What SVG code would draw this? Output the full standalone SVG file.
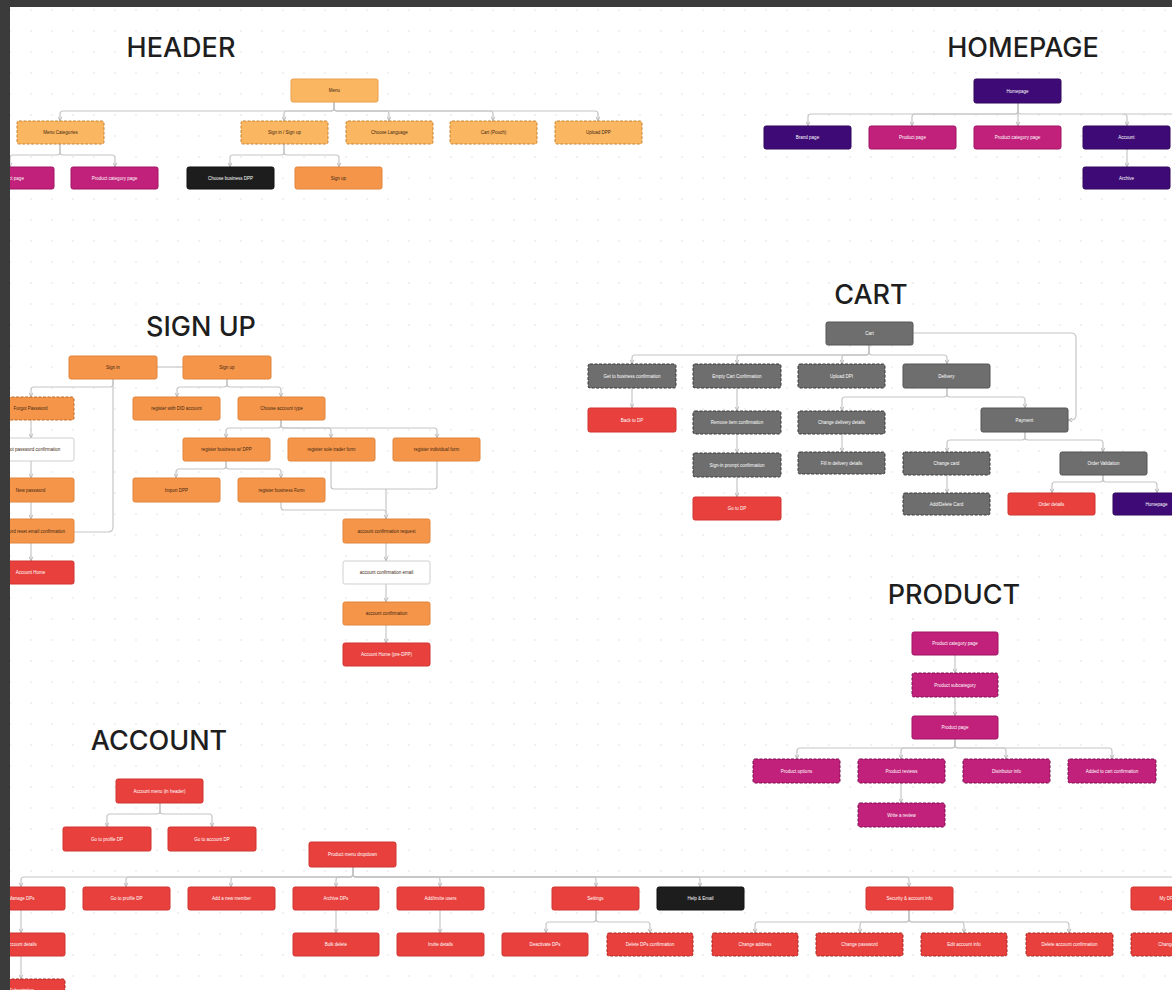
<svg xmlns="http://www.w3.org/2000/svg" width="1172" height="990" viewBox="0 0 1172 990">
<style>
.node rect{rx:2px;ry:2px;stroke-width:1}
.lo{fill:#fbb661;stroke:#e9a04c}
.or{fill:#f5954a;stroke:#e0843b}
.rd{fill:#e8403c;stroke:#cf3530}
.gy{fill:#6e6e6e;stroke:#555}
.bk{fill:#1d1d1d;stroke:#111}
.pu{fill:#3e0b76;stroke:#2e075a}
.pk{fill:#c1217b;stroke:#a01565}
.wh{fill:#ffffff;stroke:#cfcfcf}
.dash{stroke-dasharray:3 1.5;stroke-width:1.1}
.lo.dash{stroke:#c98432}
.gy.dash{stroke:#3a3a3a}
.pk.dash{stroke:#7e0e4e}
.rd.dash{stroke:#a82824}
.or.dash{stroke:#c46a25}
text{font-family:"Liberation Sans",Arial,sans-serif;font-size:4.5px;text-anchor:middle}
.l{fill:#ffffff}
.ld{fill:#3d2710}
.title{font-family:Inter,"Liberation Sans",sans-serif;font-size:27px;fill:#1e1e1e;font-weight:500}
#connectors path{fill:none;stroke:#c6c6c6;stroke-width:1.2}
</style>
<defs>
<marker id="ar" viewBox="0 0 6 6" refX="5.5" refY="3" markerWidth="5" markerHeight="5" markerUnits="userSpaceOnUse" orient="auto">
<path d="M0.5 0.8 L5.5 3 L0.5 5.2" fill="none" stroke="#b0b0b0" stroke-width="1"/>
</marker>
<pattern id="dots" width="21" height="21" patternUnits="userSpaceOnUse">
<circle cx="10" cy="10" r="0.9" fill="#ebebeb"/>
</pattern>
</defs>
<rect width="1172" height="990" fill="#ffffff"/>
<rect width="1172" height="990" fill="url(#dots)"/>

<g id="titles">
<text class="title" x="181" y="57">HEADER</text>
<text class="title" x="1023" y="57">HOMEPAGE</text>
<text class="title" x="871" y="304">CART</text>
<text class="title" x="201" y="336">SIGN UP</text>
<text class="title" x="954" y="604">PRODUCT</text>
<text class="title" x="159" y="750">ACCOUNT</text>
</g>

<g id="connectors">
<!-- header -->
<path d="M334 102 V108 Q334 111 331 111 H63 Q60 111 60 114 V121" marker-end="url(#ar)"/>
<path d="M334 102 V108 Q334 111 331 111 H287 Q284 111 284 114 V121" marker-end="url(#ar)"/>
<path d="M334 102 V108 Q334 111 337 111 H386 Q389 111 389 114 V121" marker-end="url(#ar)"/>
<path d="M334 102 V108 Q334 111 337 111 H490 Q493 111 493 114 V121" marker-end="url(#ar)"/>
<path d="M334 102 V108 Q334 111 337 111 H595 Q598 111 598 114 V121" marker-end="url(#ar)"/>
<path d="M60 144 V152 Q60 155 57 155 H13 Q10 155 10 158 V167" marker-end="url(#ar)"/>
<path d="M60 144 V152 Q60 155 63 155 H112 Q115 155 115 158 V167" marker-end="url(#ar)"/>
<path d="M284 144 V152 Q284 155 281 155 H233 Q230 155 230 158 V167" marker-end="url(#ar)"/>
<path d="M284 144 V152 Q284 155 287 155 H336 Q339 155 339 158 V167" marker-end="url(#ar)"/>
<!-- homepage -->
<path d="M1018 103 V111 Q1018 114 1015 114 H811 Q808 114 808 117 V126" marker-end="url(#ar)"/>
<path d="M1018 103 V111 Q1018 114 1015 114 H915 Q912 114 912 117 V126" marker-end="url(#ar)"/>
<path d="M1018 103 V126" marker-end="url(#ar)"/>
<path d="M1018 103 V111 Q1018 114 1021 114 H1124 Q1127 114 1127 117 V126" marker-end="url(#ar)"/>
<path d="M1124 114 H1180"/>
<path d="M1127 149 V167" marker-end="url(#ar)"/>
<!-- sign up -->
<path d="M157 367 H183"/>
<path d="M113 379 V384 Q113 387 110 387 H34 Q31 387 31 390 V397" marker-end="url(#ar)"/>
<path d="M113 379 V527 Q113 532 108 532 H74"/>
<path d="M31 420 V438" marker-end="url(#ar)"/>
<path d="M31 461 V478" marker-end="url(#ar)"/>
<path d="M31 502 V519" marker-end="url(#ar)"/>
<path d="M31 543 V561" marker-end="url(#ar)"/>
<path d="M227 379 V384 Q227 387 224 387 H180 Q177 387 177 390 V397" marker-end="url(#ar)"/>
<path d="M227 379 V384 Q227 387 230 387 H278 Q281 387 281 390 V397" marker-end="url(#ar)"/>
<path d="M281 420 V425 Q281 428 278 428 H229 Q226 428 226 431 V438" marker-end="url(#ar)"/>
<path d="M281 420 V425 Q281 428 284 428 H328 Q331 428 331 431 V438" marker-end="url(#ar)"/>
<path d="M281 420 V425 Q281 428 284 428 H434 Q437 428 437 431 V438" marker-end="url(#ar)"/>
<path d="M226 461 V466 Q226 469 223 469 H179 Q176 469 176 472 V478" marker-end="url(#ar)"/>
<path d="M226 461 V466 Q226 469 229 469 H278 Q281 469 281 472 V478" marker-end="url(#ar)"/>
<path d="M331 461 V486 Q331 489 334 489 H386"/>
<path d="M437 461 V486 Q437 489 434 489 H386"/>
<path d="M281 502 V507 Q281 510 284 510 H383 Q386 510 386 513"/>
<path d="M386 489 V519" marker-end="url(#ar)"/>
<path d="M386 543 V561" marker-end="url(#ar)"/>
<path d="M386 584 V602" marker-end="url(#ar)"/>
<path d="M386 625 V643" marker-end="url(#ar)"/>
<!-- cart -->
<path d="M869 345 V352 Q869 355 866 355 H635 Q632 355 632 358 V364" marker-end="url(#ar)"/>
<path d="M869 345 V352 Q869 355 866 355 H740 Q737 355 737 358 V364" marker-end="url(#ar)"/>
<path d="M869 345 V352 Q869 355 866 355 H845 Q842 355 842 358 V364" marker-end="url(#ar)"/>
<path d="M869 345 V352 Q869 355 872 355 H944 Q947 355 947 358 V364" marker-end="url(#ar)"/>
<path d="M632 388 V408" marker-end="url(#ar)"/>
<path d="M737 388 V411" marker-end="url(#ar)"/>
<path d="M737 434 V453" marker-end="url(#ar)"/>
<path d="M737 477 V497" marker-end="url(#ar)"/>
<path d="M947 388 V394 Q947 397 944 397 H845 Q842 397 842 400 V411" marker-end="url(#ar)"/>
<path d="M947 388 V394 Q947 397 950 397 H1022 Q1025 397 1025 400 V408" marker-end="url(#ar)"/>
<path d="M842 434 V452" marker-end="url(#ar)"/>
<path d="M913 333 H1071 Q1076 333 1076 338 V415 Q1076 420 1071 420 H1068" marker-end="url(#ar)"/>
<path d="M1025 432 V437 Q1025 440 1022 440 H950 Q947 440 947 443 V452" marker-end="url(#ar)"/>
<path d="M1025 432 V437 Q1025 440 1028 440 H1100 Q1103 440 1103 443 V452" marker-end="url(#ar)"/>
<path d="M947 475 V493" marker-end="url(#ar)"/>
<path d="M1103 475 V479 Q1103 482 1100 482 H1055 Q1052 482 1052 485 V493" marker-end="url(#ar)"/>
<path d="M1103 475 V479 Q1103 482 1106 482 H1154 Q1157 482 1157 485 V493" marker-end="url(#ar)"/>
<!-- product -->
<path d="M955 655 V673" marker-end="url(#ar)"/>
<path d="M955 697 V716" marker-end="url(#ar)"/>
<path d="M955 739 V745 Q955 748 952 748 H800 Q797 748 797 751 V759" marker-end="url(#ar)"/>
<path d="M955 739 V745 Q955 748 952 748 H904 Q901 748 901 751 V759" marker-end="url(#ar)"/>
<path d="M955 739 V745 Q955 748 958 748 H1003 Q1006 748 1006 751 V759" marker-end="url(#ar)"/>
<path d="M955 739 V745 Q955 748 958 748 H1109 Q1112 748 1112 751 V759" marker-end="url(#ar)"/>
<path d="M901 783 V803" marker-end="url(#ar)"/>
<!-- account -->
<path d="M160 803 V811 Q160 814 157 814 H110 Q107 814 107 817 V827" marker-end="url(#ar)"/>
<path d="M160 803 V811 Q160 814 163 814 H209 Q212 814 212 817 V827" marker-end="url(#ar)"/>
<path d="M353 867 V874 Q353 877 350 877 H24 Q21 877 21 880 V887" marker-end="url(#ar)"/>
<path d="M353 867 V874 Q353 877 350 877 H129 Q126 877 126 880 V887" marker-end="url(#ar)"/>
<path d="M353 867 V874 Q353 877 350 877 H234 Q231 877 231 880 V887" marker-end="url(#ar)"/>
<path d="M353 867 V874 Q353 877 350 877 H339 Q336 877 336 880 V887" marker-end="url(#ar)"/>
<path d="M353 867 V874 Q353 877 356 877 H437 Q440 877 440 880 V887" marker-end="url(#ar)"/>
<path d="M353 867 V874 Q353 877 356 877 H593 Q596 877 596 880 V887" marker-end="url(#ar)"/>
<path d="M353 867 V874 Q353 877 356 877 H697 Q700 877 700 880 V887" marker-end="url(#ar)"/>
<path d="M353 867 V874 Q353 877 356 877 H906 Q909 877 909 880 V887" marker-end="url(#ar)"/>
<path d="M353 867 V874 Q353 877 356 877 H1172 Q1175 877 1175 880 V887"/>
<path d="M21 910 V933" marker-end="url(#ar)"/>
<path d="M21 956 V979" marker-end="url(#ar)"/>
<path d="M336 910 V933" marker-end="url(#ar)"/>
<path d="M440 910 V933" marker-end="url(#ar)"/>
<path d="M596 910 V919 Q596 922 593 922 H549 Q546 922 546 925 V933" marker-end="url(#ar)"/>
<path d="M596 910 V919 Q596 922 599 922 H647 Q650 922 650 925 V933" marker-end="url(#ar)"/>
<path d="M909 910 V919 Q909 922 906 922 H758 Q755 922 755 925 V933" marker-end="url(#ar)"/>
<path d="M909 910 V919 Q909 922 906 922 H863 Q860 922 860 925 V933" marker-end="url(#ar)"/>
<path d="M909 910 V919 Q909 922 912 922 H961 Q964 922 964 925 V933" marker-end="url(#ar)"/>
<path d="M909 910 V919 Q909 922 912 922 H1066 Q1069 922 1069 925 V933" marker-end="url(#ar)"/>
</g>

<!-- HEADER -->
<g id="h_menu" class="node"><rect class="lo" x="291" y="79" width="87" height="23"/><text class="ld" x="334.5" y="92">Menu</text></g>
<g id="h_cat" class="node"><rect class="lo dash" x="17" y="121" width="87" height="23"/><text class="ld" x="60.5" y="134">Menu Categories</text></g>
<g id="h_sign" class="node"><rect class="lo dash" x="241" y="121" width="87" height="23"/><text class="ld" x="284.5" y="134">Sign in / Sign up</text></g>
<g id="h_lang" class="node"><rect class="lo dash" x="346" y="121" width="87" height="23"/><text class="ld" x="389.5" y="134">Choose Language</text></g>
<g id="h_cart" class="node"><rect class="lo dash" x="450" y="121" width="87" height="23"/><text class="ld" x="493.5" y="134">Cart (Pouch)</text></g>
<g id="h_upload" class="node"><rect class="lo dash" x="555" y="121" width="87" height="23"/><text class="ld" x="598.5" y="134">Upload DPP</text></g>
<g id="h_prod" class="node"><rect class="pk" x="-33" y="167" width="87" height="22"/><text class="l" x="10.5" y="179.5">Product page</text></g>
<g id="h_pcat" class="node"><rect class="pk" x="71" y="167" width="87" height="22"/><text class="l" x="114.5" y="179.5">Product category page</text></g>
<g id="h_biz" class="node"><rect class="bk" x="187" y="167" width="87" height="22"/><text class="l" x="230.5" y="179.5">Choose business DPP</text></g>
<g id="h_signup" class="node"><rect class="or" x="295" y="167" width="87" height="22"/><text class="ld" x="338.5" y="179.5">Sign up</text></g>

<!-- HOMEPAGE -->
<g id="hp_home" class="node"><rect class="pu" x="974" y="79" width="87" height="24"/><text class="l" x="1017.5" y="92.5">Homepage</text></g>
<g id="hp_brand" class="node"><rect class="pu" x="764" y="126" width="87" height="23"/><text class="l" x="807.5" y="139">Brand page</text></g>
<g id="hp_prod" class="node"><rect class="pk" x="869" y="126" width="87" height="23"/><text class="l" x="912.5" y="139">Product page</text></g>
<g id="hp_pcat" class="node"><rect class="pk" x="974" y="126" width="87" height="23"/><text class="l" x="1017.5" y="139">Product category page</text></g>
<g id="hp_acc" class="node"><rect class="pu" x="1083" y="126" width="87" height="23"/><text class="l" x="1126.5" y="139">Account</text></g>
<g id="hp_arch" class="node"><rect class="pu" x="1083" y="167" width="87" height="22"/><text class="l" x="1126.5" y="179.5">Archive</text></g>

<!-- SIGN UP -->
<g id="s_signin" class="node"><rect class="or" x="69" y="356" width="88" height="23"/><text class="ld" x="113" y="369">Sign in</text></g>
<g id="s_signup" class="node"><rect class="or" x="183" y="356" width="88" height="23"/><text class="ld" x="227" y="369">Sign up</text></g>
<g id="s_forgot" class="node"><rect class="or dash" x="-13" y="397" width="87" height="23"/><text class="ld" x="30.5" y="410">Forgot Password</text></g>
<g id="s_pwconf" class="node"><rect class="wh" x="-13" y="438" width="87" height="23"/><text class="ld" x="30.5" y="451">Forgot password confirmation</text></g>
<g id="s_newpw" class="node"><rect class="or" x="-13" y="478" width="87" height="24"/><text class="ld" x="30.5" y="491.5">New password</text></g>
<g id="s_emailconf" class="node"><rect class="or" x="-13" y="519" width="87" height="24"/><text class="ld" x="30.5" y="532.5">Password reset email confirmation</text></g>
<g id="s_home" class="node"><rect class="rd" x="-13" y="561" width="87" height="23"/><text class="l" x="30.5" y="574">Account Home</text></g>
<g id="s_regacc" class="node"><rect class="or" x="133" y="397" width="87" height="23"/><text class="ld" x="176.5" y="410">register with DID account</text></g>
<g id="s_choose" class="node"><rect class="or" x="238" y="397" width="87" height="23"/><text class="ld" x="281.5" y="410">Choose account type</text></g>
<g id="s_regbiz" class="node"><rect class="or" x="183" y="438" width="87" height="23"/><text class="ld" x="226.5" y="451">register business w/ DPP</text></g>
<g id="s_regsole" class="node"><rect class="or" x="288" y="438" width="87" height="23"/><text class="ld" x="331.5" y="451">register sole trader form</text></g>
<g id="s_regind" class="node"><rect class="or" x="393" y="438" width="87" height="23"/><text class="ld" x="436.5" y="451">register individual form</text></g>
<g id="s_import" class="node"><rect class="or" x="133" y="478" width="87" height="24"/><text class="ld" x="176.5" y="491.5">Import DPP</text></g>
<g id="s_bizform" class="node"><rect class="or" x="238" y="478" width="87" height="24"/><text class="ld" x="281.5" y="491.5">register business Form</text></g>
<g id="s_req" class="node"><rect class="or" x="343" y="519" width="87" height="24"/><text class="ld" x="386.5" y="532.5">account confirmation request</text></g>
<g id="s_email" class="node"><rect class="wh" x="343" y="561" width="87" height="23"/><text class="ld" x="386.5" y="574">account confirmation email</text></g>
<g id="s_acc" class="node"><rect class="or" x="343" y="602" width="87" height="23"/><text class="ld" x="386.5" y="615">account confirmation</text></g>
<g id="s_home2" class="node"><rect class="rd" x="343" y="643" width="87" height="23"/><text class="l" x="386.5" y="656">Account Home (pre-DPP)</text></g>

<!-- CART -->
<g id="c_cart" class="node"><rect class="gy" x="826" y="322" width="87" height="23"/><text class="l" x="869.5" y="335">Cart</text></g>
<g id="c_getbiz" class="node"><rect class="gy dash" x="588" y="364" width="88" height="24"/><text class="l" x="632" y="377.5">Get to business confirmation</text></g>
<g id="c_empty" class="node"><rect class="gy dash" x="693" y="364" width="88" height="24"/><text class="l" x="737" y="377.5">Empty Cart Confirmation</text></g>
<g id="c_upload" class="node"><rect class="gy dash" x="798" y="364" width="87" height="24"/><text class="l" x="841.5" y="377.5">Upload DPI</text></g>
<g id="c_deliv" class="node"><rect class="gy" x="903" y="364" width="87" height="24"/><text class="l" x="946.5" y="377.5">Delivery</text></g>
<g id="c_backdp" class="node"><rect class="rd" x="588" y="408" width="88" height="24"/><text class="l" x="632" y="421.5">Back to DP</text></g>
<g id="c_remove" class="node"><rect class="gy dash" x="693" y="411" width="88" height="23"/><text class="l" x="737" y="424">Remove item confirmation</text></g>
<g id="c_signin" class="node"><rect class="gy dash" x="693" y="453" width="88" height="24"/><text class="l" x="737" y="466.5">Sign-in prompt confirmation</text></g>
<g id="c_godp" class="node"><rect class="rd" x="693" y="497" width="88" height="23"/><text class="l" x="737" y="510">Go to DP</text></g>
<g id="c_chdeliv" class="node"><rect class="gy dash" x="798" y="411" width="87" height="23"/><text class="l" x="841.5" y="424">Change delivery details</text></g>
<g id="c_fill" class="node"><rect class="gy dash" x="798" y="452" width="87" height="22"/><text class="l" x="841.5" y="464.5">Fill in delivery details</text></g>
<g id="c_pay" class="node"><rect class="gy" x="981" y="408" width="87" height="24"/><text class="l" x="1024.5" y="421.5">Payment</text></g>
<g id="c_chcard" class="node"><rect class="gy dash" x="903" y="452" width="87" height="23"/><text class="l" x="946.5" y="465">Change card</text></g>
<g id="c_orderval" class="node"><rect class="gy" x="1060" y="452" width="87" height="23"/><text class="l" x="1103.5" y="465">Order Validation</text></g>
<g id="c_addcard" class="node"><rect class="gy dash" x="903" y="493" width="87" height="22"/><text class="l" x="946.5" y="505.5">Add/Delete Card</text></g>
<g id="c_details" class="node"><rect class="rd" x="1008" y="493" width="87" height="22"/><text class="l" x="1051.5" y="505.5">Order details</text></g>
<g id="c_home" class="node"><rect class="pu" x="1113" y="493" width="87" height="22"/><text class="l" x="1156.5" y="505.5">Homepage</text></g>

<!-- PRODUCT -->
<g id="p_cat" class="node"><rect class="pk" x="912" y="632" width="86" height="23"/><text class="l" x="955" y="645">Product category page</text></g>
<g id="p_sub" class="node"><rect class="pk dash" x="912" y="673" width="86" height="24"/><text class="l" x="955" y="686.5">Product subcategory</text></g>
<g id="p_page" class="node"><rect class="pk" x="912" y="716" width="86" height="23"/><text class="l" x="955" y="729">Product page</text></g>
<g id="p_opt" class="node"><rect class="pk dash" x="753" y="759" width="87" height="24"/><text class="l" x="796.5" y="772.5">Product options</text></g>
<g id="p_rev" class="node"><rect class="pk dash" x="858" y="759" width="87" height="24"/><text class="l" x="901.5" y="772.5">Product reviews</text></g>
<g id="p_dist" class="node"><rect class="pk dash" x="963" y="759" width="87" height="24"/><text class="l" x="1006.5" y="772.5">Distributor info</text></g>
<g id="p_added" class="node"><rect class="pk dash" x="1068" y="759" width="88" height="24"/><text class="l" x="1112" y="772.5">Added to cart confirmation</text></g>
<g id="p_write" class="node"><rect class="pk dash" x="858" y="803" width="87" height="24"/><text class="l" x="901.5" y="816.5">Write a review</text></g>

<!-- ACCOUNT -->
<g id="a_menu" class="node"><rect class="rd" x="116" y="779" width="87" height="24"/><text class="l" x="159.5" y="792.5">Account menu (in header)</text></g>
<g id="a_prof" class="node"><rect class="rd" x="63" y="827" width="88" height="24"/><text class="l" x="107" y="840.5">Go to profile DP</text></g>
<g id="a_acc" class="node"><rect class="rd" x="168" y="827" width="88" height="24"/><text class="l" x="212" y="840.5">Go to account DP</text></g>
<g id="a_drop" class="node"><rect class="rd" x="309" y="842" width="87" height="25"/><text class="l" x="352.5" y="856">Product menu dropdown</text></g>
<g id="a_manage" class="node"><rect class="rd" x="-22" y="887" width="87" height="23"/><text class="l" x="21.5" y="900">Manage DPs</text></g>
<g id="a_goprof" class="node"><rect class="rd" x="83" y="887" width="87" height="23"/><text class="l" x="126.5" y="900">Go to profile DP</text></g>
<g id="a_addmem" class="node"><rect class="rd" x="188" y="887" width="87" height="23"/><text class="l" x="231.5" y="900">Add a new member</text></g>
<g id="a_archive" class="node"><rect class="rd" x="293" y="887" width="86" height="23"/><text class="l" x="336" y="900">Archive DPs</text></g>
<g id="a_addusers" class="node"><rect class="rd" x="397" y="887" width="87" height="23"/><text class="l" x="440.5" y="900">Add/invite users</text></g>
<g id="a_settings" class="node"><rect class="rd" x="552" y="887" width="87" height="23"/><text class="l" x="595.5" y="900">Settings</text></g>
<g id="a_help" class="node"><rect class="bk" x="657" y="887" width="87" height="23"/><text class="l" x="700.5" y="900">Help &amp; Email</text></g>
<g id="a_security" class="node"><rect class="rd" x="866" y="887" width="87" height="23"/><text class="l" x="909.5" y="900">Security &amp; account info</text></g>
<g id="a_mydp" class="node"><rect class="rd" x="1131" y="887" width="87" height="23"/><text class="l" x="1174.5" y="900">My DP settings</text></g>
<g id="a_details" class="node"><rect class="rd" x="-22" y="933" width="87" height="23"/><text class="l" x="21.5" y="946">Account details</text></g>
<g id="a_sub" class="node"><rect class="rd dash" x="-22" y="979" width="87" height="23"/><text class="l" x="21.5" y="992">Subscription</text></g>
<g id="a_bulk" class="node"><rect class="rd" x="293" y="933" width="86" height="23"/><text class="l" x="336" y="946">Bulk delete</text></g>
<g id="a_invite" class="node"><rect class="rd" x="397" y="933" width="87" height="23"/><text class="l" x="440.5" y="946">Invite details</text></g>
<g id="a_deact" class="node"><rect class="rd" x="502" y="933" width="86" height="23"/><text class="l" x="545" y="946">Deactivate DPs</text></g>
<g id="a_delconf" class="node"><rect class="rd dash" x="607" y="933" width="86" height="23"/><text class="l" x="650" y="946">Delete DPs confirmation</text></g>
<g id="a_chaddr" class="node"><rect class="rd dash" x="712" y="933" width="86" height="23"/><text class="l" x="755" y="946">Change address</text></g>
<g id="a_chpw" class="node"><rect class="rd dash" x="816" y="933" width="87" height="23"/><text class="l" x="859.5" y="946">Change password</text></g>
<g id="a_edit" class="node"><rect class="rd dash" x="921" y="933" width="86" height="23"/><text class="l" x="964" y="946">Edit account info</text></g>
<g id="a_delacc" class="node"><rect class="rd dash" x="1026" y="933" width="87" height="23"/><text class="l" x="1069.5" y="946">Delete account confirmation</text></g>
<g id="a_chmore" class="node"><rect class="rd dash" x="1131" y="933" width="87" height="23"/><text class="l" x="1174.5" y="946">Change settings</text></g>

<g id="frame">
<rect x="0" y="0" width="1172" height="7" fill="#3b3b3b"/>
<rect x="0" y="0" width="10" height="990" fill="#3b3b3b"/>
</g>
</svg>
